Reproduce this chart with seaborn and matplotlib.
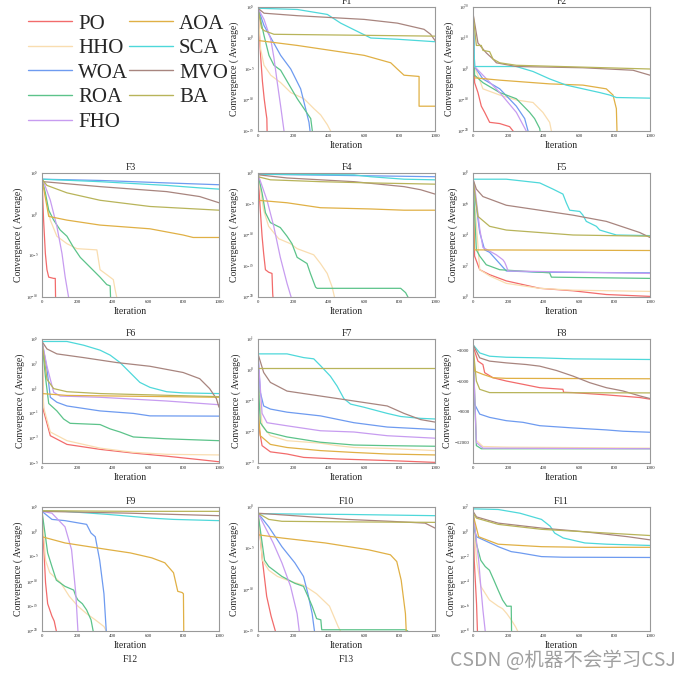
import pandas as pd
import seaborn as sns
import matplotlib.pyplot as plt
from matplotlib.lines import Line2D
from matplotlib.ticker import FixedLocator, NullFormatter

algorithms = ["PO", "HHO", "WOA", "ROA", "FHO", "AOA", "SCA", "MVO", "BA"]
colors = ["#F26B6B", "#F9DDB0", "#6E9BF0", "#5CC38A", "#C79CF0",
          "#E0B045", "#4ED8DA", "#A8857F", "#B8B45A"]

# convergence curves: iteration breakpoints, log10 of the average best fitness
F1 = {
    "PO": ([0, 15, 25, 35, 45, 50, 52], [4.6, -3, -7, -9.8, -12, -13, -16]),
    "HHO": ([0, 15, 34, 72, 128, 185, 260, 316, 354, 392, 410, 412],
            [4.8, -1.8, -4.4, -6, -7.2, -8.8, -9.8, -11.4, -12.4, -14, -15, -16]),
    "WOA": ([0, 34, 128, 185, 241, 269, 288, 294, 296], [4.8, 2, -2.8, -5, -8.2, -11.4, -13.6, -15, -16]),
    "ROA": ([0, 34, 62, 90, 128, 185, 222, 260, 298, 307, 310],
            [4.8, 0.4, -2.8, -4.4, -5.2, -8, -9.8, -11.4, -13, -15, -16]),
    "FHO": ([0, 34, 72, 90, 109, 128, 147, 150], [4.8, 3, -0.2, -3.2, -7.2, -11, -15, -16]),
    "AOA": ([0, 222, 600, 750, 787, 825, 910, 910, 1000], [-0.4, -1.2, -2.8, -4, -5, -6, -6.2, -11, -11]),
    "SCA": ([0, 222, 392, 467, 580, 637, 787, 1000], [4.8, 4.6, 3.8, 2.4, 0.8, 0, -0.2, -0.6]),
    "MVO": ([0, 34, 222, 600, 787, 938, 975, 1000], [4.8, 4, 3.6, 3, 2.4, 1.4, 0.6, -0.4]),
    "BA": ([0, 20, 34, 90, 1000], [4.8, 1.6, 1.2, 0.6, 0.3]),
}
F2 = {
    "PO": ([0, 9, 28, 47, 66, 94, 151, 207, 240], [17.2, -4.4, -7.6, -12, -14, -17.2, -17.6, -18.6, -21]),
    "HHO": ([0, 9, 56, 151, 245, 339, 395, 433, 443, 445],
            [18, 0.8, -6.4, -8.4, -10, -10.8, -14, -17.2, -20, -21]),
    "WOA": ([0, 9, 56, 151, 245, 292, 311, 313], [18, 0.8, -3.2, -6.4, -12, -16, -20, -21]),
    "ROA": ([0, 9, 56, 151, 245, 320, 348, 377, 381], [18, -2, -4.4, -7.6, -9.6, -14, -16, -19.2, -21]),
    "FHO": ([0, 9, 56, 151, 245, 301, 303], [18, 0.8, -2, -7.6, -14, -20, -21]),
    "AOA": ([0, 151, 433, 621, 753, 791, 810, 814], [-2.8, -3.6, -4.8, -5.2, -6.4, -8.4, -12.8, -21]),
    "SCA": ([0, 9, 245, 339, 433, 527, 716, 772, 810, 1000],
            [18.8, 0.8, 0.8, -0.8, -3.2, -5.2, -7.6, -8.4, -9.2, -9.4]),
    "MVO": ([0, 28, 75, 113, 132, 245, 621, 904, 1000], [18, 8.4, 5.2, 3.2, 2, 0.8, 0.4, -0.4, -2]),
    "BA": ([0, 19, 47, 56, 94, 113, 151, 245, 1000], [18, 7.6, 7.6, 6, 5.6, 3.2, 2, 1.2, 0]),
}
F3 = {
    "PO": ([0, 9, 19, 28, 38, 66, 75, 77], [4.25, -0.7, -4.75, -6.7, -7.6, -7.75, -7.75, -10.5]),
    "HHO": ([0, 47, 84, 141, 197, 310, 328, 366, 403, 413, 422, 424],
            [4.25, -0.7, -2.65, -3.55, -4.15, -4.3, -6.7, -7.3, -7.9, -9.1, -10, -10.5]),
    "WOA": ([0, 328, 704, 1000], [4.25, 4.1, 3.8, 3.58]),
    "ROA": ([0, 19, 38, 66, 103, 141, 178, 216, 272, 328, 366, 385, 388],
            [4.25, 2.6, 0.5, -0.7, -1.9, -2.65, -4, -5.2, -6.4, -7.6, -8.5, -8.65, -10.5]),
    "FHO": ([0, 9, 47, 84, 113, 131, 150, 152], [4.25, 3.95, 1.7, -1.45, -4.75, -7.6, -10, -10.5]),
    "AOA": ([0, 38, 141, 328, 610, 797, 854, 1000], [4.25, -0.25, -0.7, -1.3, -1.75, -2.5, -2.8, -2.8]),
    "SCA": ([0, 328, 704, 891, 1000], [4.25, 3.95, 3.5, 3.2, 3.05]),
    "MVO": ([0, 9, 328, 704, 891, 1000], [4.25, 3.95, 3.35, 2.75, 2.15, 1.4]),
    "BA": ([0, 28, 141, 328, 610, 1000], [4.25, 3.5, 2.6, 1.7, 0.95, 0.5]),
}
F4 = {
    "PO": ([0, 13, 23, 32, 42, 60, 79, 83, 86], [-0.2, -6, -10.2, -13, -15.6, -16, -16.2, -19.4, -20.6]),
    "HHO": ([0, 32, 60, 117, 183, 221, 315, 353, 391, 419, 432, 434],
            [-0.2, -6, -8.6, -10.6, -11.4, -12.2, -13.2, -14.6, -16.2, -18.4, -20, -20.6]),
    "WOA": ([0, 500, 1000], [-0.2, -0.4, -0.6]),
    "ROA": ([0, 23, 42, 70, 126, 164, 192, 221, 277, 296, 325, 334, 806, 834, 847, 849],
            [-0.2, -3.2, -6.4, -8, -8.8, -10.2, -11.4, -13.6, -14.6, -16.2, -18.4, -18.6, -18.6, -19.3, -20, -20.6]),
    "FHO": ([0, 51, 89, 126, 164, 187, 189], [-0.2, -4.4, -8.6, -13.6, -17.8, -20, -20.6]),
    "AOA": ([0, 164, 353, 636, 825, 1000], [-4.4, -4.8, -5.6, -5.8, -6, -6]),
    "SCA": ([0, 542, 636, 825, 1000], [-0.2, -0.3, -0.6, -1, -1.1]),
    "MVO": ([0, 4, 164, 542, 825, 919, 1000], [-0.2, -0.3, -0.8, -1.4, -2.2, -2.7, -3.4]),
    "BA": ([0, 70, 353, 636, 1000], [-0.6, -1.1, -1.4, -1.6, -1.8]),
}
F5 = {
    "PO": ([0, 9, 38, 94, 188, 377, 565, 753, 1000], [7.6, 2.64, 1.76, 1.44, 1.04, 0.56, 0.4, 0.16, 0.04]),
    "HHO": ([0, 38, 94, 188, 377, 565, 1000], [7.6, 1.76, 1.36, 0.88, 0.56, 0.44, 0.36]),
    "WOA": ([0, 9, 38, 66, 94, 188, 377, 1000], [7.6, 6.72, 4.16, 3.04, 2.88, 1.68, 1.6, 1.56]),
    "ROA": ([0, 19, 38, 75, 151, 377, 433, 443, 1000], [7.6, 3.04, 2.64, 2.08, 1.76, 1.6, 1.56, 1.28, 1.2]),
    "FHO": ([0, 9, 38, 56, 94, 132, 169, 179, 188, 198, 1000],
            [7.6, 7.2, 4.4, 3.2, 2.96, 2.72, 2.4, 2.24, 2.0, 1.68, 1.52]),
    "AOA": ([0, 6, 1000], [7.6, 3.04, 3.0]),
    "SCA": ([0, 188, 377, 452, 508, 527, 546, 603, 621, 640, 697, 716, 810, 1000],
            [7.6, 7.6, 7.36, 6.96, 6.64, 6.08, 5.6, 5.52, 5.28, 4.88, 4.56, 4.32, 4.0, 3.96]),
    "MVO": ([0, 19, 56, 188, 377, 565, 753, 942, 1000], [7.6, 6.96, 6.48, 5.92, 5.6, 5.28, 4.88, 4.16, 3.84]),
    "BA": ([0, 28, 94, 188, 377, 565, 1000], [7.6, 5.2, 4.56, 4.32, 4.16, 4.0, 3.92]),
}
F6 = {
    "PO": ([0, 9, 47, 141, 328, 516, 704, 891, 1000], [4.5, -0.8, -2.8, -3.5, -3.9, -4.2, -4.45, -4.73, -4.9]),
    "HHO": ([0, 9, 47, 141, 328, 516, 704, 1000], [4.8, -0.5, -2.5, -3.2, -3.8, -4.14, -4.3, -4.35]),
    "WOA": ([0, 28, 47, 84, 141, 328, 516, 610, 1000], [4.8, 2.6, 0.3, -0.1, -0.4, -0.8, -1, -1.2, -1.22]),
    "ROA": ([0, 19, 38, 84, 122, 159, 328, 385, 441, 478, 516, 704, 1000],
            [4.8, 2, -0.2, -0.8, -1.45, -1.8, -1.9, -2.25, -2.5, -2.7, -2.9, -3.05, -3.2]),
    "FHO": ([0, 28, 66, 103, 328, 704, 1000], [4.8, 2.8, 0.7, 0.4, 0.3, 0, -0.3]),
    "AOA": ([0, 141, 1000], [0.6, 0.45, 0.3]),
    "SCA": ([0, 141, 235, 328, 385, 441, 497, 553, 610, 704, 797, 1000],
            [4.8, 4.8, 4.5, 4.1, 3.7, 3.1, 2.3, 1.5, 1.1, 0.75, 0.65, 0.6]),
    "MVO": ([0, 28, 84, 235, 422, 610, 797, 891, 947, 985, 1000],
            [4.8, 4.2, 3.8, 3.5, 3.1, 2.8, 2.3, 1.8, 1.0, 0.2, -0.5]),
    "BA": ([0, 28, 66, 141, 328, 1000], [4.8, 1.75, 1.0, 0.75, 0.6, 0.35]),
}
F7 = {
    "PO": ([0, 23, 70, 164, 258, 447, 730, 1000], [-1.68, -2.44, -2.64, -2.71, -2.82, -2.87, -2.92, -2.98]),
    "HHO": ([0, 23, 70, 164, 353, 447, 542, 730, 1000], [-0.2, -1.8, -2.12, -2.28, -2.36, -2.44, -2.5, -2.53, -2.6]),
    "WOA": ([0, 13, 32, 70, 164, 353, 542, 730, 1000], [0.52, -0.72, -1.16, -1.26, -1.36, -1.48, -1.7, -1.84, -1.92]),
    "ROA": ([0, 13, 51, 164, 353, 542, 730, 1000], [-0.2, -1.7, -2, -2.16, -2.33, -2.42, -2.44, -2.46]),
    "FHO": ([0, 23, 51, 164, 353, 542, 730, 1000], [0.52, -1.4, -1.7, -1.8, -1.96, -2, -2.12, -2.2]),
    "AOA": ([0, 13, 70, 164, 353, 542, 730, 1000], [-1.24, -2.12, -2.4, -2.5, -2.6, -2.66, -2.71, -2.74]),
    "SCA": ([0, 164, 258, 315, 353, 409, 447, 485, 523, 598, 730, 806, 919, 1000],
            [0.52, 0.52, 0.4, 0.36, 0.14, -0.2, -0.52, -0.92, -1.1, -1.2, -1.4, -1.5, -1.56, -1.58]),
    "MVO": ([0, 32, 70, 164, 258, 353, 542, 730, 825, 919, 1000],
            [0.52, -0.08, -0.4, -0.68, -0.76, -0.84, -1, -1.16, -1.4, -1.6, -1.68]),
    "BA": ([0, 500, 1000], [0.064, 0.064, 0.064]),
}
# F8 is plotted on a linear axis
F8 = {
    "PO": ([0, 28, 56, 66, 113, 188, 282, 377, 508, 512, 565, 753, 942, 1000],
           [-2600, -4060, -4390, -5190, -5680, -6000, -6320, -6650, -6810, -7100, -7130, -7350, -7610, -7770]),
    "HHO": ([0, 19, 56, 188, 1000], [-2700, -11800, -12390, -12450, -12550]),
    "WOA": ([0, 9, 38, 94, 188, 282, 377, 565, 753, 847, 1000],
            [-4300, -8260, -9230, -9550, -9870, -10030, -10360, -10580, -10770, -10900, -11000]),
    "ROA": ([0, 19, 47, 1000], [-2700, -12300, -12610, -12610]),
    "FHO": ([0, 19, 56, 1000], [-2700, -12000, -12550, -12610]),
    "AOA": ([0, 9, 56, 113, 188, 1000], [-2700, -5030, -5350, -5680, -5740, -5780]),
    "SCA": ([0, 38, 94, 188, 377, 565, 1000], [-2450, -3260, -3580, -3680, -3740, -3840, -3900]),
    "MVO": ([0, 38, 94, 188, 301, 377, 471, 565, 659, 753, 847, 942, 1000],
            [-2450, -3740, -4060, -4230, -4390, -4550, -4970, -5520, -6160, -6650, -6970, -7450, -7710]),
    "BA": ([0, 19, 38, 94, 1000], [-2600, -6000, -6810, -7130, -7160]),
}
F9 = {
    "PO": ([0, 20, 32, 56, 69, 81, 83], [4.125, -10.25, -14.5, -17, -18, -20, -20.5]),
    "HHO": ([0, 20, 44, 105, 154, 203, 252, 301, 350, 363, 365],
            [4.125, -5.75, -8.25, -10.25, -13, -15, -16.5, -17.75, -19.1, -20, -20.5]),
    "WOA": ([0, 56, 130, 252, 277, 301, 326, 350, 363, 365], [4.125, 2.5, 2.25, 1.5, -0.25, -1, -5.75, -12.5, -20, -20.5]),
    "ROA": ([0, 32, 56, 81, 130, 179, 191, 203, 228, 252, 277, 289, 291],
            [4.125, -4.25, -7, -9.75, -11, -11.75, -13, -13.75, -14.5, -15.75, -17.75, -20, -20.5]),
    "FHO": ([0, 56, 130, 167, 191, 203, 205], [4.125, 3.75, 1, -3.6, -12.5, -20, -20.5]),
    "AOA": ([0, 130, 375, 498, 620, 694, 743, 767, 792, 799, 801],
            [-1, -2.25, -3.6, -4.25, -5.25, -6.25, -8.25, -12, -12.25, -12.5, -20.5]),
    "SCA": ([0, 130, 375, 620, 743, 1000], [4.25, 4.125, 3.5, 2.75, 2.5, 2.25]),
    "MVO": ([0, 498, 1000], [4.125, 3.75, 3.25]),
    "BA": ([0, 500, 1000], [4.25, 4.125, 4.125]),
}
F10 = {
    "PO": ([0, 25, 49, 74, 86, 98, 100], [-0.75, -6.45, -10.8, -13.2, -14.1, -15, -15.3]),
    "HHO": ([0, 25, 61, 110, 184, 257, 331, 404, 453, 466, 468],
            [-0.75, -6.45, -7.65, -8.4, -9, -9.45, -10.5, -12, -14.48, -15, -15.3]),
    "WOA": ([0, 61, 135, 208, 257, 282, 306, 319, 321], [-0.75, -2.4, -4.8, -6.75, -8.4, -10.5, -12.9, -15, -15.3]),
    "ROA": ([0, 37, 61, 135, 208, 257, 282, 306, 331, 355, 360, 833, 846, 848],
            [-0.75, -6.45, -7.2, -8.4, -9.23, -9.6, -10.8, -12, -13.5, -13.65, -14.85, -14.85, -15, -15.3]),
    "FHO": ([0, 86, 135, 184, 221, 233, 235], [-0.75, -4.35, -6.75, -9.6, -12.9, -15, -15.3]),
    "AOA": ([0, 135, 380, 625, 748, 784, 809, 833, 838], [-3.36, -3.75, -4.35, -5.18, -5.78, -6.6, -8.85, -12.9, -15.3]),
    "SCA": ([0, 502, 1000], [-0.81, -0.9, -1.05]),
    "MVO": ([0, 257, 502, 748, 944, 1000], [-0.75, -1.13, -1.5, -1.73, -1.95, -2.55]),
    "BA": ([0, 61, 135, 502, 1000], [-0.75, -1.5, -1.73, -1.8, -1.86]),
}
F11 = {
    "PO": ([0, 7, 20, 25, 27], [1.65, -2.3, -5.8, -8, -8.2]),
    "HHO": ([0, 20, 44, 93, 142, 167, 191, 216, 240, 252, 254],
            [1.65, -2.3, -4.4, -5.5, -6, -6.2, -6.6, -7.1, -7.65, -8, -8.2]),
    "WOA": ([0, 20, 142, 216, 265, 387, 510, 1000], [0.5, -0.4, -1.2, -1.6, -1.7, -2, -2.05, -2.07]),
    "ROA": ([0, 20, 44, 69, 93, 118, 142, 167, 191, 216, 218],
            [1.65, -1, -2.3, -2.8, -3.1, -3.9, -4.7, -5.5, -6, -6, -8.2]),
    "FHO": ([0, 32, 44, 56, 69, 71], [1.65, -2.3, -4.4, -6.3, -8, -8.2]),
    "AOA": ([0, 32, 142, 387, 632, 1000], [1.4, -0.4, -1, -1.2, -1.25, -1.25]),
    "SCA": ([0, 142, 265, 387, 436, 461, 510, 632, 755, 1000], [1.85, 1.8, 1.5, 1, 0.45, -0.1, -0.5, -0.9, -1, -1.1]),
    "MVO": ([0, 20, 142, 387, 632, 877, 1000], [1.65, 1.2, 0.7, 0.3, 0, -0.4, -0.65]),
    "BA": ([0, 20, 142, 387, 632, 1000], [1.5, 1.1, 0.6, 0.2, 0, -0.3]),
}

# name, data, (log10 low, log10 high, tick step) or None for linear
panels = [
    ("F1", F1, (-15, 5, 5)), ("F2", F2, (-20, 20, 10)),
    ("F3", F3, (-10, 5, 5)), ("F4", F4, (-20, 0, 5)), ("F5", F5, (0, 8, 2)),
    ("F6", F6, (-5, 5, 2)), ("F7", F7, (-3, 1, 1)), ("F8", F8, None),
    ("F9", F9, (-20, 5, 5)), ("F10", F10, (-15, 0, 5)), ("F11", F11, (-8, 2, 2)),
]
slots = [(0, 1), (0, 2), (1, 0), (1, 1), (1, 2), (2, 0), (2, 1), (2, 2), (3, 0), (3, 1), (3, 2)]

sns.set_style("white")
plt.rcParams["font.family"] = ["Liberation Serif", "DejaVu Serif"]
plt.rcParams["mathtext.fontset"] = "stix"

fig = plt.figure(figsize=(6.8, 6.8), dpi=100)
W = H = 680
col_left = [42, 258, 473]
row_top = [7, 173, 339, 507]
aw, ah = 177, 124

for (name, data, scale), (r, c) in zip(panels, slots):
    ax = fig.add_axes([col_left[c] / W, 1 - (row_top[r] + ah) / H, aw / W, ah / H])
    rows = []
    for alg, (xs, ys) in data.items():
        for x, y in zip(xs, ys):
            rows.append((x, 10.0 ** y if scale else y, alg))
    df = pd.DataFrame(rows, columns=["Iteration", "Value", "Algorithm"])
    sns.lineplot(data=df, x="Iteration", y="Value", hue="Algorithm", hue_order=algorithms,
                 palette=colors, estimator=None, sort=False, legend=False, lw=0.9, ax=ax)
    ax.set_xlim(0, 1000)
    ax.set_xticks(range(0, 1001, 200))
    if scale:
        lo, hi, st = scale
        ax.set_yscale("log")
        ax.set_ylim(10.0 ** lo, 10.0 ** hi)
        exps = list(range(lo, hi + 1, st))
        ax.set_yticks([10.0 ** e for e in exps])
        ax.set_yticklabels([f"$10^{{{e}}}$" for e in exps])
        ax.yaxis.set_minor_locator(FixedLocator([10.0 ** e for e in range(lo, hi + 1)]))
        ax.yaxis.set_minor_formatter(NullFormatter())
    else:
        ax.set_ylim(-14000, -1900)
        ax.set_yticks([-3000, -6000, -9000, -12000])
    ax.set_title(name, fontsize=7, pad=2)
    ax.set_xlabel("Iteration", fontsize=7, labelpad=2)
    ax.set_ylabel("Convergence ( Average)", fontsize=7, labelpad=2)
    ax.tick_params(axis="both", which="major", labelsize=3.5, length=1.5, width=0.5,
                   pad=1, color="#888888", direction="out")
    ax.tick_params(axis="y", which="minor", length=1, width=0.4, color="#888888")
    for sp in ax.spines.values():
        sp.set_color("#999999")
        sp.set_linewidth(0.8)

handles = [Line2D([], [], color=col, lw=1.0) for col in colors]
fig.legend(handles, algorithms, loc="upper left", bbox_to_anchor=(28 / W, 1 - 14 / H),
           ncol=2, frameon=False, fontsize=15, handlelength=2.1, handletextpad=0.3,
           labelspacing=0.24, columnspacing=0.05, borderpad=0, borderaxespad=0)

fig.text(130 / W, 1 - 659 / H, "F12", fontsize=7, ha="center", va="center")
fig.text(346 / W, 1 - 659 / H, "F13", fontsize=7, ha="center", va="center")
fig.text(676 / W, 1 - 661 / H, "CSDN @机器不会学习CSJ", fontsize=14, ha="right", va="center",
         color="#a0a0a0", family=["Noto Sans CJK SC", "DejaVu Sans"])

fig.savefig("out.png", dpi=100)
